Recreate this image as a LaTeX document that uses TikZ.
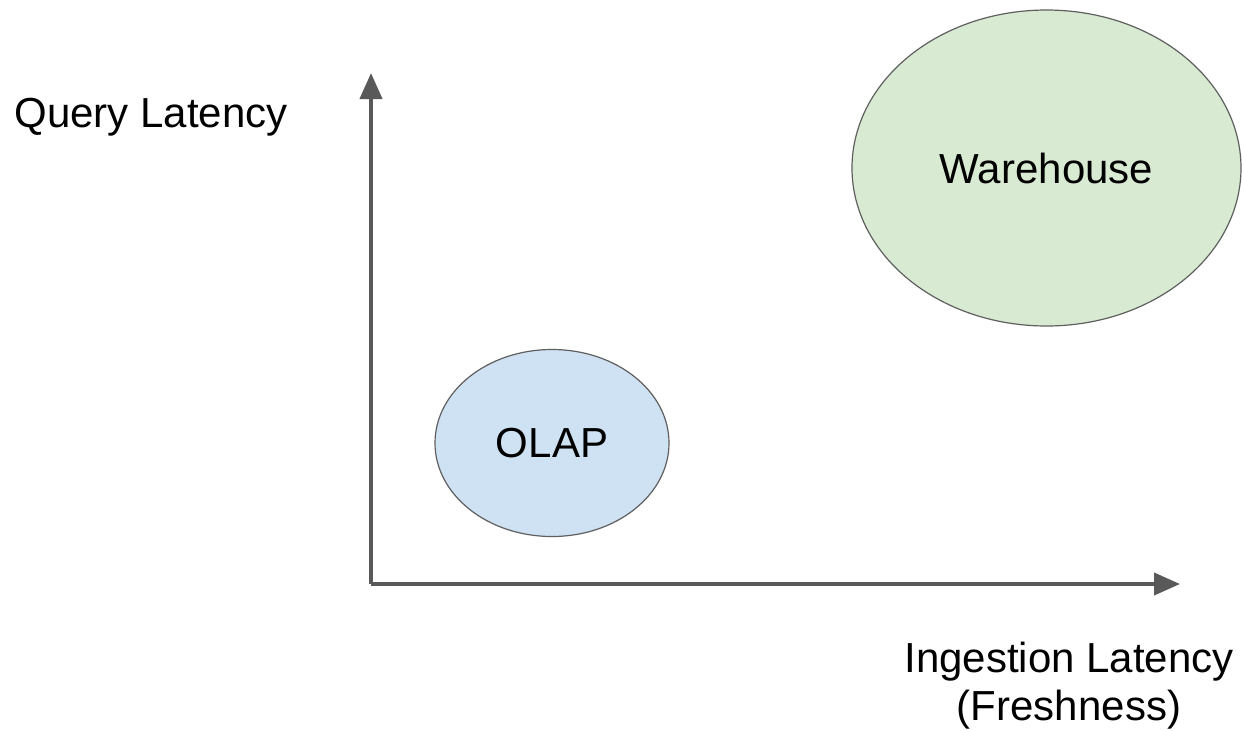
\documentclass[tikz,border=0pt]{standalone}
\usepackage{fontspec}
\setmainfont{Liberation Sans}
\usetikzlibrary{shapes.geometric,arrows.meta}
\definecolor{axisgray}{HTML}{595959}
\definecolor{olapblue}{HTML}{CFE2F3}
\definecolor{whgreen}{HTML}{D9EAD3}
\definecolor{edgegray}{HTML}{5F5F5F}
\tikzset{
  lbl/.style={font=\fontsize{21}{24}\selectfont, text=black, inner sep=0pt},
  blob/.style={ellipse, draw=edgegray, line width=0.6pt, inner sep=0pt,
               font=\fontsize{21}{24}\selectfont},
  axisline/.style={draw=axisgray, line width=2pt, line join=miter,
                   -{Triangle[length=13pt,width=11pt]}},
}
\begin{document}
\begin{tikzpicture}[x=0.5pt,y=-0.5pt]
\useasboundingbox[fill=white] (0,0) rectangle (1242,730);
\coordinate (ytip) at (371,73);
\coordinate (origin) at (371,584);
\coordinate (xtip) at (1180,584);
\draw[axisline] (origin) -- (ytip);
\draw[axisline] (origin) -- (xtip);
\node[blob, fill=olapblue, minimum width=117pt, minimum height=93.5pt] (olap) at (552,443) {OLAP};
\node[blob, fill=whgreen, minimum width=194.5pt, minimum height=158pt] (wh) at (1046.5,168) {Warehouse};
\node[lbl, anchor=base] (ql) at (151,127) {Query Latency};
\node[lbl, anchor=base, align=center] (il) at (1069,720) {Ingestion Latency\\(Freshness)};
\end{tikzpicture}
\end{document}
